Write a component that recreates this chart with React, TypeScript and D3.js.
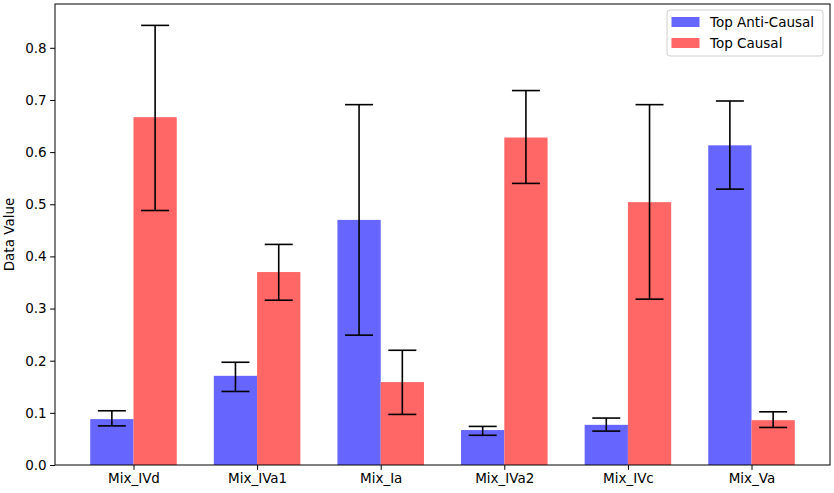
import React, { useEffect, useRef } from 'react';
import * as d3 from 'd3';

const categories = ['Mix_IVd', 'Mix_IVa1', 'Mix_Ia', 'Mix_IVa2', 'Mix_IVc', 'Mix_Va'];

const antiValues = [0.088, 0.171, 0.470, 0.067, 0.077, 0.613];
const antiLow = [0.075, 0.141, 0.249, 0.057, 0.065, 0.529];
const antiHigh = [0.104, 0.197, 0.691, 0.074, 0.090, 0.698];

const causalValues = [0.667, 0.370, 0.159, 0.628, 0.504, 0.086];
const causalLow = [0.488, 0.316, 0.097, 0.540, 0.318, 0.072];
const causalHigh = [0.843, 0.423, 0.220, 0.718, 0.691, 0.102];

const yTicks = [0, 0.1, 0.2, 0.3, 0.4, 0.5, 0.6, 0.7, 0.8];

const seriesNames = ['Top Anti-Causal', 'Top Causal'];
const seriesColors = ['#6666ff', '#ff6666'];

const W = 834;
const H = 493;
const margin = { left: 55, right: 4, top: 4, bottom: 28 };
const barWidth = 0.35;

const App: React.FC = () => {
  const ref = useRef<SVGSVGElement>(null);

  useEffect(() => {
    const svg = d3.select(ref.current);
    svg.selectAll('*').remove();

    const x = d3.scaleLinear()
      .domain([-0.635, categories.length - 1 + 0.635])
      .range([margin.left, W - margin.right]);

    const y = d3.scaleLinear()
      .domain([0, 0.884])
      .range([H - margin.bottom, margin.top]);

    const font = 'DejaVu Sans, sans-serif';

    const series = [
      { vals: antiValues, lo: antiLow, hi: antiHigh, off: -barWidth / 2 },
      { vals: causalValues, lo: causalLow, hi: causalHigh, off: barWidth / 2 },
    ];

    series.forEach((s, si) => {
      const g = svg.append('g');
      g.selectAll('rect')
        .data(s.vals)
        .enter()
        .append('rect')
        .attr('x', (d, i) => x(i + s.off - barWidth / 2))
        .attr('width', x(barWidth) - x(0))
        .attr('y', (d) => y(d))
        .attr('height', (d) => y(0) - y(d))
        .attr('fill', seriesColors[si]);
    });

    // error bars drawn on top
    series.forEach((s) => {
      const g = svg.append('g').attr('stroke', '#000').attr('stroke-width', 1.6);
      s.vals.forEach((d, i) => {
        const cx = x(i + s.off);
        g.append('line').attr('x1', cx).attr('x2', cx).attr('y1', y(s.lo[i])).attr('y2', y(s.hi[i]));
        [s.lo[i], s.hi[i]].forEach((v) => {
          g.append('line').attr('x1', cx - 14).attr('x2', cx + 14).attr('y1', y(v)).attr('y2', y(v));
        });
      });
    });

    // frame
    svg.append('rect')
      .attr('x', margin.left)
      .attr('y', margin.top)
      .attr('width', W - margin.left - margin.right)
      .attr('height', H - margin.top - margin.bottom)
      .attr('fill', 'none')
      .attr('stroke', '#000')
      .attr('stroke-width', 1);

    const yAxis = d3.axisLeft(y)
      .tickValues(yTicks)
      .tickFormat(d3.format('.1f'))
      .tickSize(4.9)
      .tickPadding(3.5);
    const ya = svg.append('g')
      .attr('transform', `translate(${margin.left},0)`)
      .call(yAxis);
    ya.select('.domain').remove();
    ya.selectAll('text').attr('font-family', font).attr('font-size', 13.5).attr('fill', '#000');

    const xAxis = d3.axisBottom(x)
      .tickValues(d3.range(categories.length))
      .tickFormat((d) => categories[d as number])
      .tickSize(4.9)
      .tickPadding(3.5);
    const xa = svg.append('g')
      .attr('transform', `translate(0,${H - margin.bottom})`)
      .call(xAxis);
    xa.select('.domain').remove();
    xa.selectAll('text').attr('font-family', font).attr('font-size', 13.5).attr('fill', '#000');

    svg.append('text')
      .attr('transform', `translate(14,${(margin.top + H - margin.bottom) / 2}) rotate(-90)`)
      .attr('text-anchor', 'middle')
      .attr('font-family', font)
      .attr('font-size', 13.5)
      .text('Data Value');

    // legend
    const lg = svg.append('g').attr('transform', 'translate(667,10)');
    lg.append('rect')
      .attr('width', 156)
      .attr('height', 46)
      .attr('rx', 3)
      .attr('fill', 'rgba(255,255,255,0.8)')
      .attr('stroke', '#d0d0d0');
    seriesNames.forEach((name, i) => {
      lg.append('rect')
        .attr('x', 4.5)
        .attr('y', 7 + i * 21)
        .attr('width', 28)
        .attr('height', 10)
        .attr('fill', seriesColors[i]);
      lg.append('text')
        .attr('x', 43)
        .attr('y', 17 + i * 21)
        .attr('font-family', font)
        .attr('font-size', 13.5)
        .text(name);
    });
  }, []);

  return (
    <svg
      ref={ref}
      width={W}
      height={H}
      style={{ position: 'absolute', left: 0, top: 0, background: '#fff' }}
    />
  );
};

export default App;
